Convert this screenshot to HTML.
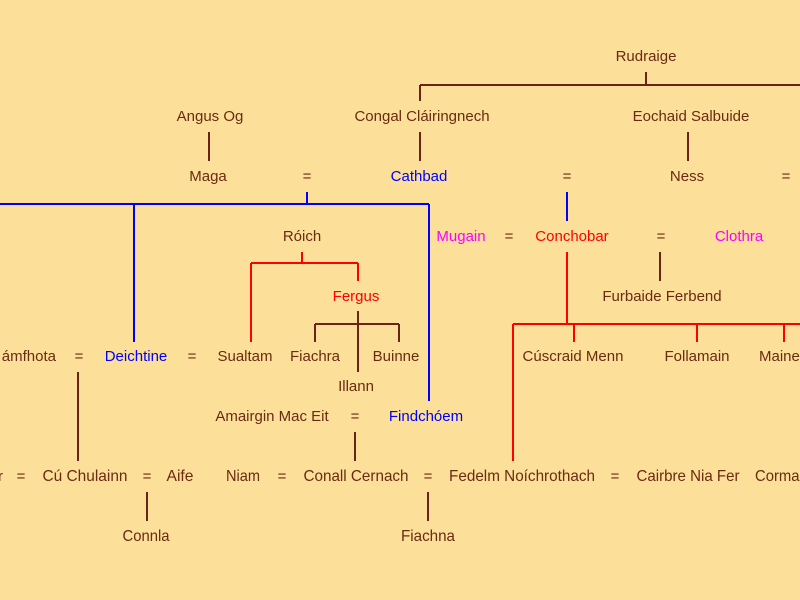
<!DOCTYPE html>
<html><head><meta charset="utf-8"><style>
html,body{margin:0;padding:0;background:#fcdf98;}
svg{display:block}
text{font-family:"Liberation Sans","DejaVu Sans",sans-serif;font-size:15px;fill:#6b2a12;text-anchor:middle}
.b{fill:#0000ff}.r{fill:#ff0000}.m{fill:#ff00ff}
.n{font-size:16px}
</style></head><body>
<svg width="800" height="600" xmlns="http://www.w3.org/2000/svg">
<rect width="800" height="600" fill="#fcdf98"/>
<g fill="none" stroke-width="2" stroke-linecap="butt">
<g stroke="#6b2218">
<path d="M646 72V85M420 85H800M420 85V101"/>
<path d="M209 132V161M420 132V161M688 132V161"/>
<path d="M660 252V281"/>
<path d="M358 311V372M315 324H399M315 324V342M399 324V342"/>
<path d="M78 372V461M355 432V461M147 492V521M428 492V521"/>
</g>
<g stroke="#0000ff">
<path d="M307 192V204M0 204H429M134 204V342M429 204V401M567 192V221"/>
</g>
<g stroke="#ff0000">
<path d="M302 252V263M251 263H358M251 263V342M358 263V281"/>
<path d="M567 252V324M513 324H800M513 324V461M574 324V342M697 324V342M784 324V342"/>
</g>
</g>
<text x="646" y="61">Rudraige</text>
<text x="210" y="121">Angus Og</text>
<text x="422" y="121">Congal Cláiringnech</text>
<text x="691" y="121">Eochaid Salbuide</text>
<text x="208" y="181">Maga</text>
<text x="307" y="181">=</text>
<text x="419" y="181" class="b">Cathbad</text>
<text x="567" y="181">=</text>
<text x="687" y="181">Ness</text>
<text x="786" y="181">=</text>
<text x="302" y="241">Róich</text>
<text x="461" y="241" class="m">Mugain</text>
<text x="509" y="241">=</text>
<text x="572" y="241" class="r">Conchobar</text>
<text x="661" y="241">=</text>
<text x="739" y="241" class="m">Clothra</text>
<text x="356" y="301" class="r">Fergus</text>
<text x="662" y="301">Furbaide Ferbend</text>
<text x="56" y="361" style="text-anchor:end">ámfhota</text>
<text x="79" y="361">=</text>
<text x="136" y="361" class="b">Deichtine</text>
<text x="192" y="361">=</text>
<text x="245" y="361">Sualtam</text>
<text x="315" y="361">Fiachra</text>
<text x="396" y="361">Buinne</text>
<text x="573" y="361">Cúscraid Menn</text>
<text x="697" y="361">Follamain</text>
<text x="759" y="361" style="text-anchor:start">Maine</text>
<text x="356" y="391">Illann</text>
<text x="272" y="421">Amairgin Mac Eit</text>
<text x="355" y="421">=</text>
<text x="426" y="421" class="b">Findchóem</text>
<text x="-2" y="481" style="text-anchor:start">r</text>
<text x="21" y="481">=</text>
<text class="n" x="85" y="481" textLength="85" lengthAdjust="spacingAndGlyphs">Cú Chulainn</text>
<text x="147" y="481">=</text>
<text class="n" x="180" y="481" textLength="27" lengthAdjust="spacingAndGlyphs">Aife</text>
<text class="n" x="243" y="481" textLength="34" lengthAdjust="spacingAndGlyphs">Niam</text>
<text x="282" y="481">=</text>
<text class="n" x="356" y="481" textLength="105" lengthAdjust="spacingAndGlyphs">Conall Cernach</text>
<text x="428" y="481">=</text>
<text class="n" x="522" y="481" textLength="146" lengthAdjust="spacingAndGlyphs">Fedelm Noíchrothach</text>
<text x="615" y="481">=</text>
<text class="n" x="688" y="481" textLength="103" lengthAdjust="spacingAndGlyphs">Cairbre Nia Fer</text>
<text class="n" x="755" y="481" style="text-anchor:start" textLength="52" lengthAdjust="spacingAndGlyphs">Cormac</text>
<text class="n" x="146" y="541" textLength="47" lengthAdjust="spacingAndGlyphs">Connla</text>
<text class="n" x="428" y="541" textLength="54" lengthAdjust="spacingAndGlyphs">Fiachna</text>
</svg>
</body></html>
